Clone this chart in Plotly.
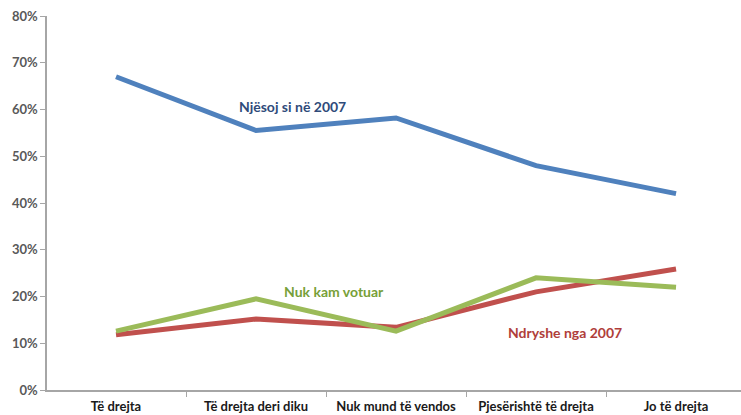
import plotly.graph_objects as go

categories = ["Të drejta", "Të drejta deri diku", "Nuk mund të vendos",
              "Pjesërishtë të drejta", "Jo të drejta"]
njesoj = [0.67, 0.555, 0.582, 0.48, 0.42]
nuk_kam_votuar = [0.126, 0.195, 0.126, 0.24, 0.22]
ndryshe = [0.118, 0.152, 0.134, 0.21, 0.259]
y_ticks = [0, 0.1, 0.2, 0.3, 0.4, 0.5, 0.6, 0.7, 0.8]

fig = go.Figure()
series = [
    (ndryshe, "#C0504D"),
    (nuk_kam_votuar, "#9BBB59"),
    (njesoj, "#4F81BD"),
]
for vals, col in series:
    fig.add_trace(go.Scatter(x=categories, y=vals, mode="lines",
                             line=dict(color=col, width=5),
                             showlegend=False, hoverinfo="skip"))

labels = [
    ("Njësoj si në 2007", categories[1], 0.607, 0.26, "#2F4B7A"),
    ("Nuk kam votuar", categories[1], 0.211, 0.56, "#77A038"),
    ("Ndryshe nga 2007", categories[3], 0.122, 0.21, "#B03E3A"),
]
for text, xc, yv, dx, col in labels:
    fig.add_annotation(x=categories.index(xc) + dx, y=yv, text=text, showarrow=False,
                       font=dict(family="Lato", size=14, color=col, weight="bold"))

fig.update_layout(
    width=741, height=415,
    margin=dict(l=47, r=0, t=16, b=25),
    paper_bgcolor="white", plot_bgcolor="white",
    font=dict(family="Lato"),
)
fig.update_xaxes(
    type="category", range=[-0.493, 4.464],
    showline=True, linecolor="#A6A6A6", linewidth=1.5,
    ticks="outside", tickson="boundaries", ticklen=5, tickcolor="#A6A6A6",
    ticklabelstandoff=4,
    showgrid=False, zeroline=False,
    tickfont=dict(family="Lato", size=13, color="#1a1a1a", weight="bold"),
)
fig.update_yaxes(
    range=[0, 0.8], tickvals=y_ticks, tickformat=".0%",
    showline=True, linecolor="#A6A6A6", linewidth=1.5,
    ticks="outside", ticklen=5, tickcolor="#A6A6A6",
    showgrid=False, zeroline=False,
    tickfont=dict(family="Lato", size=13, color="#595959", weight="bold"),
)

fig.write_html("out.html")
